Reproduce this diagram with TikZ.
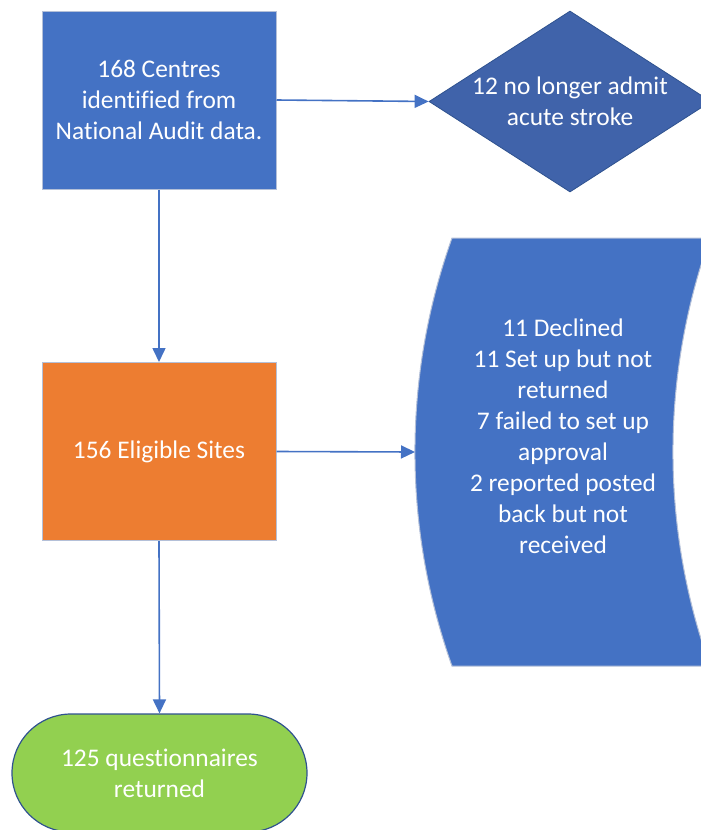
\documentclass[tikz,border=0pt]{standalone}
\usepackage{fontspec}
\setmainfont[Ligatures=NoCommon]{Carlito}
\usetikzlibrary{arrows.meta,shapes.geometric}

\definecolor{officeblue}{HTML}{4472C4}
\definecolor{darkblue}{HTML}{4063AA}
\definecolor{edgeblue}{HTML}{2F528F}
\definecolor{officeorange}{HTML}{ED7D31}
\definecolor{officegreen}{HTML}{92D050}
\definecolor{paleedge}{HTML}{B4C0D8}

\tikzset{
  lbl/.style={text=white, align=center, inner sep=0pt,
    font=\fontsize{25.4}{31}\selectfont},
  procbox/.style={lbl, draw=paleedge, line width=1pt,
    minimum width=234pt, minimum height=178pt},
  flow/.style={draw=officeblue, line width=1.6pt,
    -{Triangle[length=14pt,width=13pt]}},
}

\begin{document}
\begin{tikzpicture}[x=1pt, y=-1pt]
  \useasboundingbox (0,0) rectangle (701,830);

  % process boxes
  \node[procbox, fill=officeblue] (centres) at (159,100)
    {168 Centres\\identified from\\National Audit data.};
  \node[procbox, fill=officeorange] (eligible) at (159,451.5)
    {156 Eligible Sites};

  % decision: no longer admitting
  \node[diamond, draw=edgeblue, line width=0.8pt, fill=darkblue,
        minimum width=282pt, minimum height=181pt, inner sep=0pt]
        (admit) at (570,101.5) {};
  \node[lbl] (admittxt) at (admit.center) {12 no longer admit\\acute stroke};

  % stored-data shape for the exclusions (runs past the right edge)
  \begin{scope}
    \clip (0,0) rectangle (701,830);
    \path[fill=officeblue, draw=paleedge, line width=1pt]
      (452,238) -- (710,238)
      .. controls (660.6,376.5) and (660.6,527.5) .. (710,666)
      -- (452,666)
      .. controls (402.6,527.5) and (402.6,376.5) .. cycle;
  \end{scope}
  \coordinate (lossin) at (415,452);
  \node[lbl] (losses) at (563,436.5)
    {11 Declined\\11 Set up but not\\returned\\7 failed to set up\\approval\\2 reported posted\\back but not\\received};

  % terminal
  \node[lbl, draw=edgeblue, line width=1.2pt, fill=officegreen,
        rounded corners=59pt, minimum width=295pt, minimum height=118pt]
        (returned) at (159.5,773) {125 questionnaires\\returned};

  % connectors
  \draw[flow] (centres.east) -- (admit.west);
  \draw[flow] (centres.south) -- (eligible.north);
  \draw[flow] (eligible.east) -- (lossin);
  \draw[flow] (eligible.south) -- (returned.north);
\end{tikzpicture}
\end{document}
